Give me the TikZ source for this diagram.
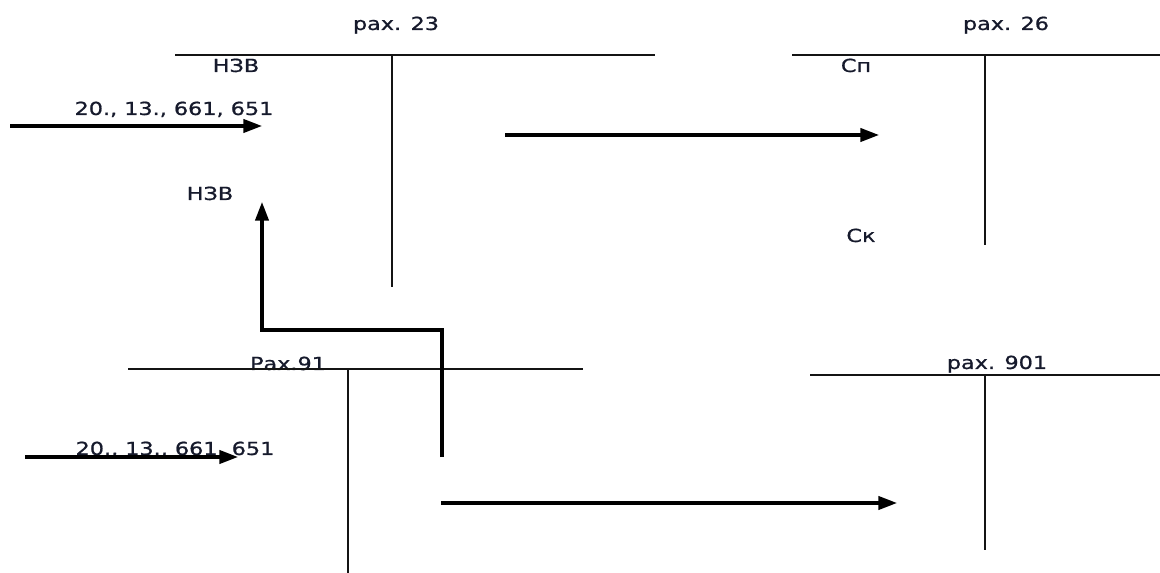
\documentclass[tikz,border=0pt]{standalone}
\usepackage{fontspec}
\setmainfont{DejaVu Sans}[FakeBold=0.8]
\usetikzlibrary{arrows.meta}
\definecolor{ink}{RGB}{22,26,44}
\definecolor{rule}{RGB}{20,20,20}
\begin{document}
\begin{tikzpicture}[x=0.75pt,y=-0.75pt,
  lbl/.style={font=\fontsize{13.5}{15}\selectfont, text=ink, inner sep=0pt, anchor=base, xscale=1.24},
  acct/.style={draw=rule, line width=1.5pt},
  flow/.style={draw=black, line width=2.35pt, line join=miter,
    -{Triangle[length=14pt,width=10pt]}}]
\useasboundingbox (0,0) rectangle (1160,573);

% T-account 23
\coordinate (a23l) at (175,55);
\coordinate (a23r) at (655,55);
\coordinate (a23t) at (392,55);
\coordinate (a23b) at (392,287);
\draw[acct] (a23l) -- (a23r);
\draw[acct] (a23t) -- (a23b);
\node[lbl] (t23) at (396,30) {рах. 23};
\node[lbl] (n23) at (236,72) {НЗВ};
\node[lbl] (in23) at (174,115) {20., 13., 661, 651};

% T-account 26
\coordinate (a26l) at (792,55);
\coordinate (a26r) at (1160,55);
\coordinate (a26t) at (985,55);
\coordinate (a26b) at (985,245);
\draw[acct] (a26l) -- (a26r);
\draw[acct] (a26t) -- (a26b);
\node[lbl] (t26) at (1006,30) {рах. 26};
\node[lbl] (sp26) at (856,72) {Сп};
\node[lbl] (sk26) at (861,242) {Ск};

% T-account 91
\coordinate (a91l) at (128,369);
\coordinate (a91r) at (583,369);
\coordinate (a91t) at (348,369);
\coordinate (a91b) at (348,573);
\node[lbl] (t91) at (288,370) {Рах.91};
\draw[acct] (a91l) -- (a91r);
\draw[acct] (a91t) -- (a91b);
\node[lbl] (in91) at (175,455) {20., 13., 661, 651};
\node[lbl] (n91) at (210,200) {НЗВ};

% T-account 901
\coordinate (a901l) at (810,375);
\coordinate (a901r) at (1160,375);
\coordinate (a901t) at (985,375);
\coordinate (a901b) at (985,550);
\draw[acct] (a901l) -- (a901r);
\draw[acct] (a901t) -- (a901b);
\node[lbl] (t901) at (997,369) {рах. 901};

% flows
\coordinate (f1s) at (10,126);
\coordinate (f1e) at (262,126);
\draw[flow] (f1s) -- (f1e);

\coordinate (f2s) at (505,135);
\coordinate (f2e) at (879,135);
\draw[flow] (f2s) -- (f2e);

\coordinate (f3s) at (442,457);
\coordinate (f3a) at (442,330);
\coordinate (f3b) at (262,330);
\coordinate (f3e) at (262,202);
\draw[flow] (f3s) -- (f3a) -- (f3b) -- (f3e);

\coordinate (f4s) at (25,457);
\coordinate (f4e) at (238,457);
\draw[flow] (f4s) -- (f4e);

\coordinate (f5s) at (441,503);
\coordinate (f5e) at (897,503);
\draw[flow] (f5s) -- (f5e);
\end{tikzpicture}
\end{document}
